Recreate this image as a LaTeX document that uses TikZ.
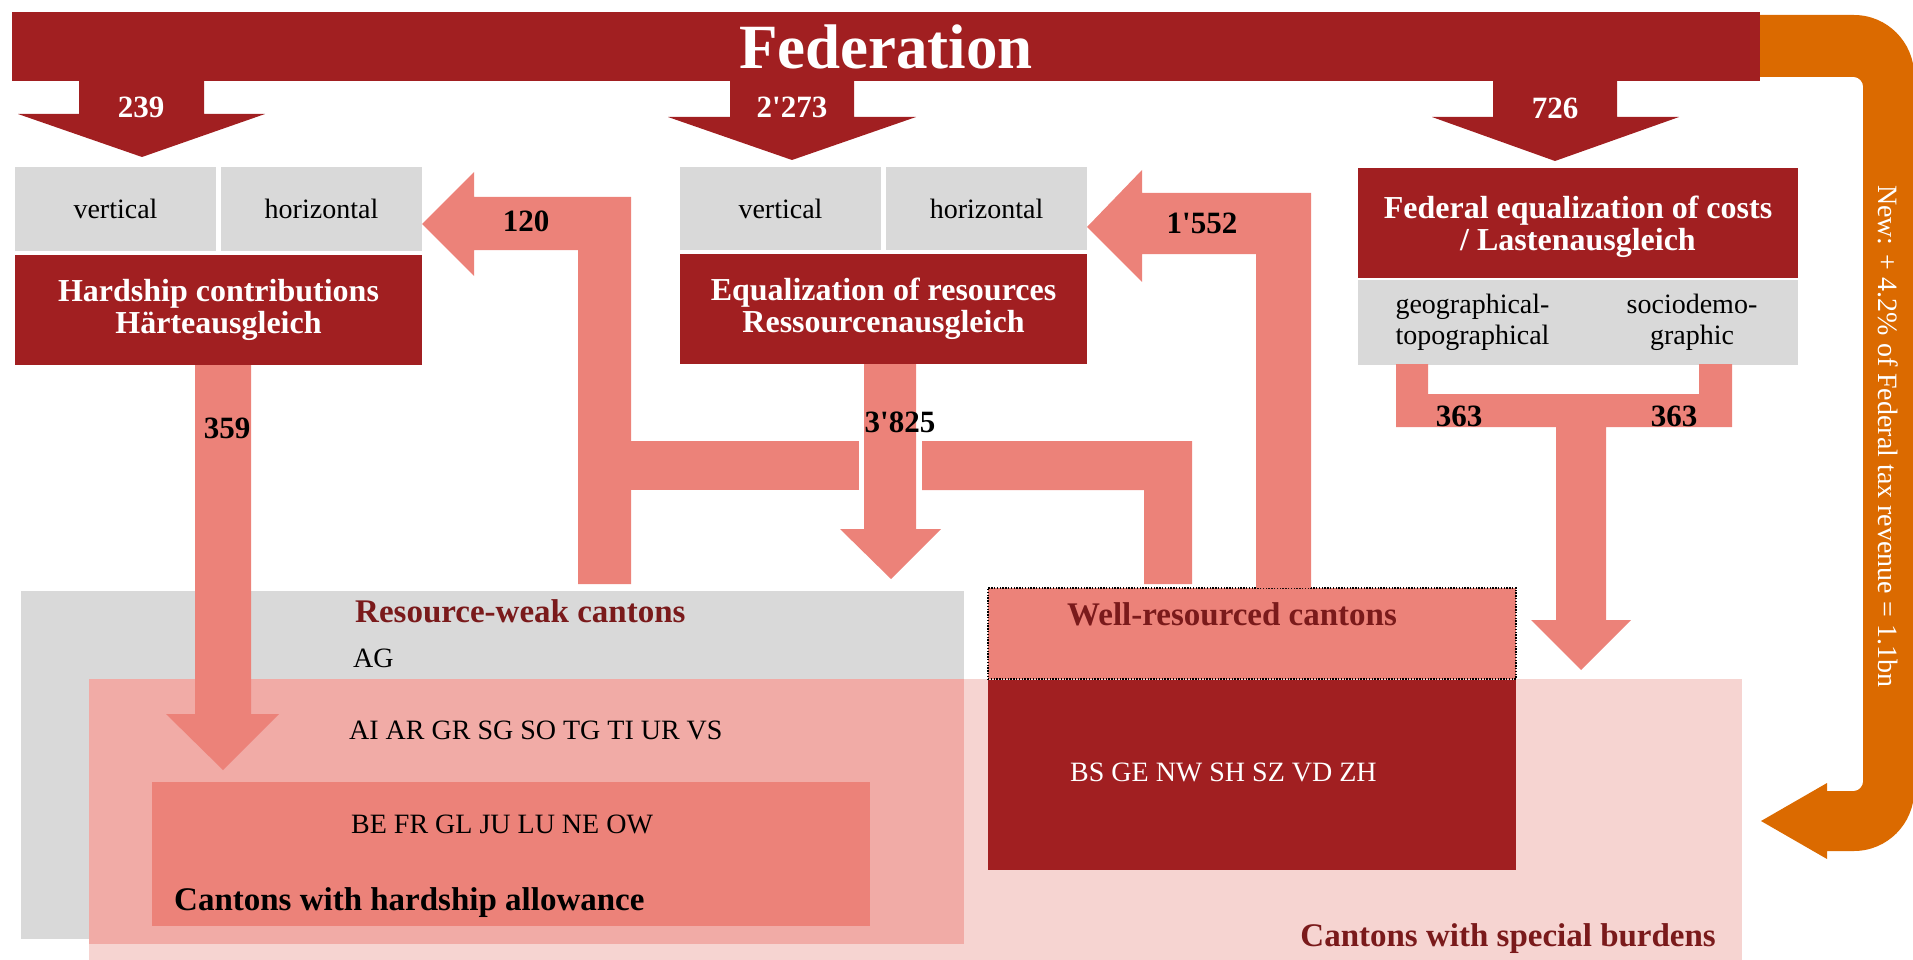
\documentclass[tikz,border=0pt]{standalone}
\usepackage{fontspec}
\setmainfont{Liberation Serif}
\newcommand\txtbody{\fontsize{28}{30.5}\selectfont}
\newcommand\txttitle{\fontsize{32}{32.5}\selectfont\bfseries}
\newcommand\txtregion{\fontsize{33}{36}\selectfont\bfseries}
\newcommand\txtnum{\fontsize{31}{34}\selectfont\bfseries}
\newcommand\txthead{\fontsize{63}{68}\selectfont\bfseries}
\begin{document}
\begin{tikzpicture}[x=1pt,y=-1pt]
\definecolor{fedred}{HTML}{A11F21}
\definecolor{salmon}{HTML}{EC8279}
\definecolor{midpink}{HTML}{F1ABA6}
\definecolor{lightpink}{HTML}{F6D4D1}
\definecolor{boxgray}{HTML}{D9D9D9}
\definecolor{flowor}{HTML}{DB6A00}
\definecolor{maroon}{HTML}{7A1A1B}
\tikzset{
  blk/.style={inner sep=0pt, outer sep=0pt, anchor=north west, align=center},
  redbox/.style={blk, fill=fedred, text=white, font=\txttitle},
  graybox/.style={blk, fill=boxgray, text=black, font=\txtbody},
  zone/.style={blk},
  label/.style={inner sep=0pt, anchor=base west},
  numw/.style={inner sep=0pt, text=white, font=\txtnum},
  numb/.style={inner sep=0pt, text=black, font=\txtnum},
}
\useasboundingbox (0,0) rectangle (1913,960);

% --- Federation bar and the three federal transfers
\node[blk, fill=fedred, text=white, font=\txthead, minimum width=1748pt, minimum height=69pt] (fed) at (12,12) {Federation};
\fill[fedred] (79,81) -- (204,81) -- (204,114) -- (265,114) -- (142,157) -- (18,114) -- (79,114) -- cycle;
\fill[fedred] (730,81) -- (854,81) -- (854,117) -- (916,117) -- (792,160) -- (668,117) -- (730,117) -- cycle;
\fill[fedred] (1493,81) -- (1617,81) -- (1617,117) -- (1679,117) -- (1555,161) -- (1432,117) -- (1493,117) -- cycle;

% --- orange return arrow on the right
\fill[flowor] (1760,15) -- (1854,15) .. controls (1887,15) and (1914,42) .. (1914,75)
  -- (1914,791) .. controls (1914,824) and (1887,851) .. (1854,851)
  -- (1827,851) -- (1827,859) -- (1761,821) -- (1827,783) -- (1827,791)
  -- (1854,791) .. controls (1859,791) and (1863,786) .. (1863,782)
  -- (1863,86) .. controls (1863,82) and (1859,77) .. (1854,77)
  -- (1760,77) -- cycle;
\node[rotate=-90, inner sep=0pt, text=white, font=\txtbody] (newtax) at (1888,436) {New: + 4.2\% of Federal tax revenue = 1.1bn};

% --- equalization instruments
\node[graybox, minimum width=201pt, minimum height=84pt] (v1) at (15,167) {vertical};
\node[graybox, minimum width=201pt, minimum height=84pt] (h1) at (221,167) {horizontal};
\node[redbox, minimum width=407pt, minimum height=110pt] (hard) at (15,255) {Hardship contributions\\Härteausgleich};

\node[graybox, minimum width=201pt, minimum height=83pt] (v2) at (680,167) {vertical};
\node[graybox, minimum width=201pt, minimum height=83pt] (h2) at (886,167) {horizontal};
\node[redbox, minimum width=407pt, minimum height=110pt] (eq) at (680,254) {Equalization of resources\\Ressourcenausgleich};

\node[redbox, minimum width=440pt, minimum height=110pt, text depth=0pt] (fec) at (1358,168) {Federal equalization of costs\\/ Lastenausgleich};
\node[graybox, minimum width=229pt, minimum height=85pt] (geo) at (1358,280) {geographical-\\topographical};
\node[graybox, minimum width=212pt, minimum height=85pt] (soc) at (1586,280) {sociodemo-\\graphic};

% --- canton groups
\node[zone, fill=boxgray, minimum width=943pt, minimum height=348pt] (weak) at (21,591) {};
\node[zone, fill=lightpink, minimum width=1653pt, minimum height=285pt] (special) at (89,679) {};
\node[zone, fill=midpink, minimum width=875pt, minimum height=265pt] (both) at (89,679) {};
\node[zone, fill=salmon, minimum width=718pt, minimum height=144pt] (hardcan) at (152,782) {};
\node[zone, fill=salmon, draw=black, line width=1.4pt, dash pattern=on 1.4pt off 1.4pt, minimum width=528pt, minimum height=91pt] (well) at (988,588) {};
\node[zone, fill=fedred, minimum width=528pt, minimum height=190pt] (rich) at (988,680) {};

% --- horizontal flows
\fill[salmon] (422,224) -- (474,172) -- (474,197) -- (631,197) -- (631,584) -- (578,584)
  -- (578,250) -- (474,250) -- (474,276) -- cycle;
\fill[salmon] (631,441) rectangle (859,490);
\fill[salmon] (922,441) -- (1192,441) -- (1192,584) -- (1144,584) -- (1144,490) -- (922,490) -- cycle;
\fill[salmon] (1087,227) -- (1142,170) -- (1142,193) -- (1311,193) -- (1311,588) -- (1256,588)
  -- (1256,254) -- (1142,254) -- (1142,282) -- cycle;

% --- payouts to the cantons
\fill[salmon] (195,365) -- (251,365) -- (251,714) -- (279,714) -- (223,770) -- (166,714) -- (195,714) -- cycle;
\fill[salmon] (864,364) -- (916,364) -- (916,529) -- (941,529) -- (891,579) -- (840,529) -- (864,529) -- cycle;
\fill[salmon] (1396,364) -- (1428,364) -- (1428,394) -- (1699,394) -- (1699,364) -- (1732,364)
  -- (1732,427) -- (1606,427) -- (1606,620) -- (1631,620) -- (1581,670) -- (1531,620)
  -- (1556,620) -- (1556,427) -- (1396,427) -- cycle;

% --- amounts
\node[numw] (n239) at (141,107) {239};
\node[numw] (n2273) at (792,107) {2\textquotesingle273};
\node[numw] (n726) at (1555,108) {726};
\node[numb] (n120) at (526,221) {120};
\node[numb] (n1552) at (1202,223) {1\textquotesingle552};
\node[numb] (n359) at (227,428) {359};
\node[numb] (n3825) at (900,422) {3\textquotesingle825};
\node[numb] (n363a) at (1459,416) {363};
\node[numb] (n363b) at (1674,416) {363};

% --- group labels and canton lists
\node[label, text=maroon, font=\txtregion] (lweak) at (355,622) {Resource-weak cantons};
\node[label, font=\txtbody] (lag) at (353,667) {AG};
\node[label, font=\txtbody] (lai) at (349,739) {AI AR GR SG SO TG TI UR VS};
\node[label, font=\txtbody] (lbe) at (351,833) {BE FR GL JU LU NE OW};
\node[label, font=\txtregion] (lhard) at (174,910) {Cantons with hardship allowance};
\node[label, text=maroon, font=\txtregion] (lwell) at (1067,625) {Well-resourced cantons};
\node[label, text=white, font=\txtbody] (lbs) at (1070,781) {BS GE NW SH SZ VD ZH};
\node[inner sep=0pt, anchor=base east, text=maroon, font=\txtregion] (lspec) at (1716,946) {Cantons with special burdens};
\end{tikzpicture}
\end{document}
